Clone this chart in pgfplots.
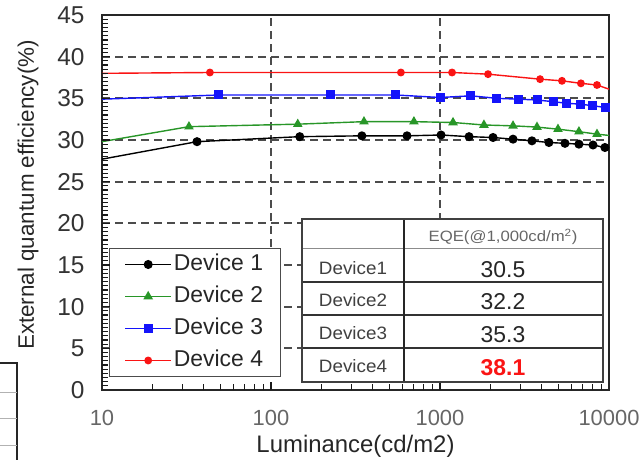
\documentclass[border=0pt]{standalone}
\usepackage{pgfplots}
\pgfplotsset{compat=1.18}
\usepackage{graphicx}
\usepackage{fontspec}
\setmainfont{Liberation Sans}
\definecolor{cgreen}{RGB}{40,150,40}
\definecolor{cblue}{RGB}{20,20,250}
\definecolor{cred}{RGB}{250,20,20}
\begin{document}
\begin{tikzpicture}
\useasboundingbox (-102bp,-70bp) rectangle (538bp,390bp);
\begin{axis}[
  at={(0bp,0bp)}, anchor=south west,
  scale only axis, width=507bp, height=375bp,
  xmode=log, xmin=10, xmax=10000, ymin=0, ymax=45,
  xtick={10,100,1000,10000}, xticklabels={10,100,1000,10000},
  ytick={0,5,...,45},
  xtick pos=bottom, ytick pos=left,
  tick align=inside,
  major tick length=8bp,
  tick style={line width=1.2bp, black!85},
  xmajorgrids, ymajorgrids,
  major grid style={dash pattern=on 8bp off 5bp, line width=2bp, color=black!70},
  axis line style={line width=1.8bp, black!85},
  /pgf/number format/assume math mode=true,
  yticklabel style={font=\fontsize{24.5}{24.5}\selectfont, text=black!80, xshift=-14bp},
  xticklabel style={font=\fontsize{22}{22}\selectfont, text=black!60, yshift=-17bp},
  every axis x label/.style={at={(rel axis cs:0.5,0)}, yshift=-56bp, anchor=center},
  every axis y label/.style={at={(rel axis cs:0,0.52)}, xshift=-74bp, rotate=90, anchor=center},
  xlabel={Luminance(cd/m2)},
  ylabel={External quantum efficiency(\%)},
  xlabel style={font=\fontsize{24}{24}\selectfont, text=black!85},
  ylabel style={font=\fontsize{22.5}{22.5}\selectfont, text=black!85},
  legend cell align=left,
  legend style={at={(rel axis cs:0.0138,0.0347)}, anchor=south west,
    font=\fontsize{23}{23}\selectfont, text=black!85,
    draw=black!70, line width=1bp, fill=white,
    inner xsep=15bp, inner ysep=5bp, row sep=10bp,
    nodes={inner sep=2bp, text height=15bp, text depth=3bp}},
  legend image code/.code={\draw[#1, mark indices={2}] plot coordinates {(0bp,0bp) (23bp,0bp) (46bp,0bp)};},
]
\addplot[black, line width=1.4bp, mark=*, mark size=3.8bp, mark indices={2,...,15}] coordinates {
(10,27.7) (36.5,29.8) (148,30.4) (345,30.5) (638,30.5) (1014,30.6) (1486,30.4) (2060,30.3)
(2705,30.1) (3500,29.9) (4410,29.7) (5490,29.6) (6640,29.5) (8040,29.4) (9460,29.1) (10000,29.05)};
\addlegendentry{Device 1}
\addplot[cgreen, line width=1.4bp, mark=triangle*, mark size=4.2bp, mark indices={2,...,12}] coordinates {
(10,29.8) (32.7,31.6) (144,31.9) (355,32.2) (701,32.2) (1194,32.1) (1820,31.8) (2705,31.7)
(3750,31.55) (4990,31.3) (6640,31.0) (8490,30.7) (10000,30.55)};
\addlegendentry{Device 2}
\addplot[cblue, line width=1.4bp, mark=square*, mark size=3.8bp, mark indices={2,...,14}] coordinates {
(10,34.9) (49.2,35.4) (226,35.4) (549,35.4) (1000,35.1) (1525,35.3) (2170,35.0) (2900,34.9)
(3750,34.8) (4670,34.6) (5640,34.4) (6820,34.3) (8040,34.1) (9590,33.9) (10000,33.85)};
\addlegendentry{Device 3}
\addplot[cred, line width=1.4bp, mark=*, mark size=3.2bp, mark indices={2,...,9}] coordinates {
(10,38.0) (43.5,38.1) (587,38.1) (1178,38.1) (1924,37.9) (3910,37.3) (5270,37.1)
(6820,36.8) (8490,36.6) (10000,36.1)};
\addlegendentry{Device 4}
\end{axis}
% minor ticks (inside) on left and bottom axis lines
\begin{scope}[x=1bp, y=1bp, black!90, line width=1.2bp]
\foreach \i in {1,...,89} {\draw (0,{\i*4.16667}) -- (6,{\i*4.16667});}
\foreach \i in {1,...,8} {\draw (0,{\i*41.6667}) -- (8,{\i*41.6667});}
\foreach \d in {0,1,2} {\foreach \m in {2,...,9} {\draw ({169*(\d+ln(\m)/ln(10))},0) -- ++(0,6);}}
\foreach \d in {1,2} {\draw ({169*\d},0) -- ++(0,8);}
\end{scope}
% inset table
\fill[white] (200bp,8bp) rectangle (501bp,171bp);
\draw[black!45, line width=1bp] (200bp,141bp) -- (501bp,141bp);
\draw[black!80, line width=1.6bp] (200bp,108bp) -- (501bp,108bp);
\draw[black!80, line width=1.2bp] (200bp,75bp) -- (501bp,75bp);
\draw[black!80, line width=1.2bp] (200bp,42bp) -- (501bp,42bp);
\draw[black!85, line width=2bp] (302bp,8bp) -- (302bp,171bp);
\draw[black!75, line width=1.5bp] (200bp,8bp) rectangle (501bp,171bp);
\begin{scope}[every node/.style={anchor=center, inner sep=0pt}]
\node[text=black!60, font=\fontsize{15}{15}\selectfont] at (401bp,153bp) {\scalebox{1.12}[1]{EQE(@1,000cd/m\textsuperscript{2})}};
\node[text=black!75, font=\fontsize{18}{18}\selectfont] at (251bp,122bp) {\scalebox{1.05}[1]{Device1}};
\node[text=black!75, font=\fontsize{18}{18}\selectfont] at (251bp,90bp) {\scalebox{1.05}[1]{Device2}};
\node[text=black!75, font=\fontsize{18}{18}\selectfont] at (251bp,57bp) {\scalebox{1.05}[1]{Device3}};
\node[text=black!75, font=\fontsize{18}{18}\selectfont] at (251bp,24bp) {\scalebox{1.05}[1]{Device4}};
\node[text=black!85, font=\fontsize{23}{23}\selectfont] at (401bp,120bp) {30.5};
\node[text=black!85, font=\fontsize{23}{23}\selectfont] at (401bp,88bp) {32.2};
\node[text=black!85, font=\fontsize{23}{23}\selectfont] at (401bp,55bp) {35.3};
\node[text=cred, font=\fontsize{23}{23}\selectfont\bfseries] at (401bp,22bp) {38.1};
\end{scope}
% cropped fragment at lower left
\fill[white] (-102bp,-70bp) rectangle (-60bp,43bp);
\draw[black!85, line width=1.5bp] (-102bp,27bp) -- (-85bp,27bp) -- (-85bp,-70bp);
\draw[black!30, line width=0.8bp] (-102bp,-2bp) -- (-85bp,-2bp);
\draw[black!30, line width=0.8bp] (-102bp,-28bp) -- (-85bp,-28bp);
\draw[black!30, line width=0.8bp] (-102bp,-55bp) -- (-85bp,-55bp);
\end{tikzpicture}
\end{document}
